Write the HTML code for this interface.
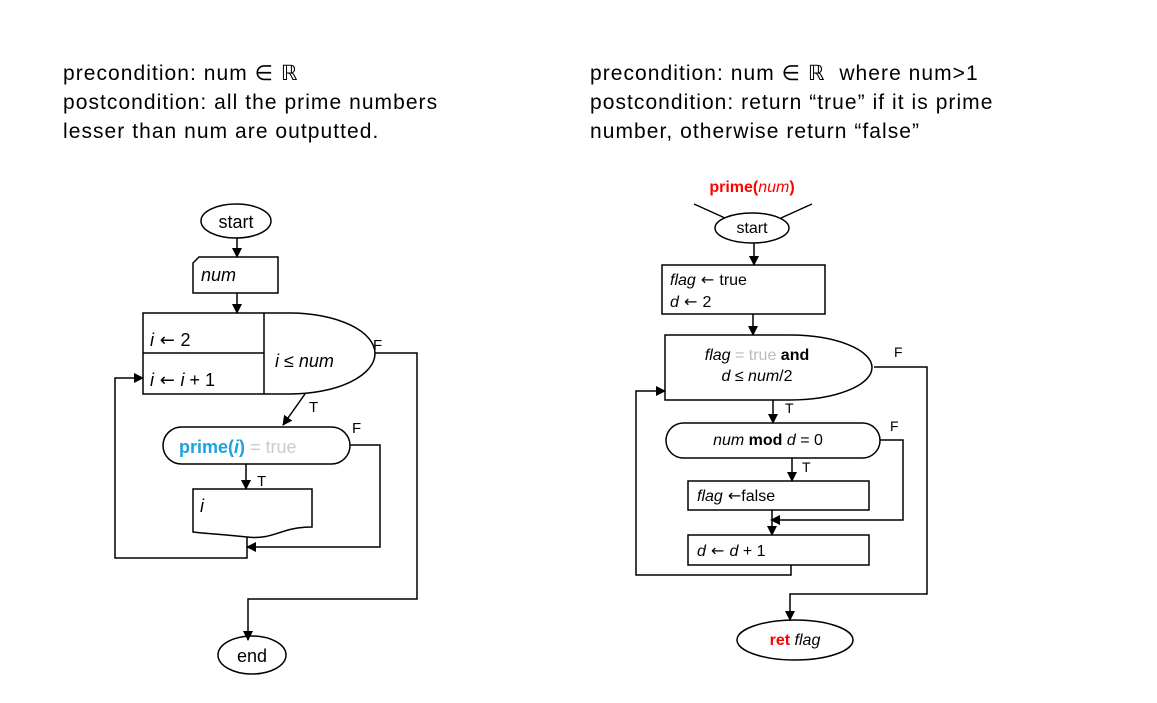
<!DOCTYPE html>
<html><head><meta charset="utf-8"><style>
body{margin:0;background:#fff;width:1157px;height:703px;overflow:hidden}
.h{position:absolute;font-family:"Liberation Sans",sans-serif;font-size:21px;letter-spacing:1.05px;line-height:29px;color:#000;white-space:nowrap}
.ar{font-family:"DejaVu Sans",sans-serif;font-style:normal}
</style></head><body>
<div class="h" style="left:63px;top:59px">precondition: num ∈ ℝ<br>postcondition: all the prime numbers<br>lesser than num are outputted.</div>
<div class="h" style="left:590px;top:59px">precondition: num ∈ ℝ &nbsp;where num&gt;1<br>postcondition: return “true” if it is prime<br>number, otherwise return “false”</div>
<svg width="1157" height="703" style="position:absolute;left:0;top:0" font-family="Liberation Sans, sans-serif">
<defs><marker id="a" markerWidth="10" markerHeight="10" refX="9" refY="5" orient="auto" markerUnits="userSpaceOnUse"><path d="M0,0 L10,5 L0,10 z" fill="#000"/></marker></defs>
<g fill="none" stroke="#000" stroke-width="1.5">
<ellipse cx="236" cy="221" rx="35" ry="17" fill="#fff"/>
<line x1="237" y1="238" x2="237" y2="257" marker-end="url(#a)"/>
<path d="M199,257 H278 V293 H193 V263 Z"/>
<line x1="237" y1="293" x2="237" y2="313" marker-end="url(#a)"/>
<path d="M143,313 H290 A85,40.5 0 0 1 290,394 H143 Z"/>
<line x1="264" y1="313" x2="264" y2="394"/>
<line x1="143" y1="353" x2="264" y2="353"/>
<polyline points="375,353 417,353 417,599 248,599 248,640" marker-end="url(#a)"/>
<line x1="305" y1="394" x2="283" y2="425" marker-end="url(#a)"/>
<rect x="163" y="427" width="187" height="37" rx="18.5"/>
<polyline points="350,445 380,445 380,547 247,547" marker-end="url(#a)"/>
<line x1="246" y1="464" x2="246" y2="489" marker-end="url(#a)"/>
<path d="M193,489 H312 V527 C280,527 275,540 247,537 C220,534 210,534 193,532 Z"/>
<polyline points="247,537 247,558 115,558 115,378 143,378" marker-end="url(#a)"/>
<ellipse cx="252" cy="655" rx="34" ry="19"/>
<line x1="694" y1="204" x2="725" y2="218"/>
<line x1="812" y1="204" x2="781" y2="218"/>
<ellipse cx="752" cy="228" rx="37" ry="15"/>
<line x1="754" y1="243" x2="754" y2="265" marker-end="url(#a)"/>
<rect x="662" y="265" width="163" height="49"/>
<line x1="753" y1="314" x2="753" y2="335" marker-end="url(#a)"/>
<path d="M665,335 H790 A82,32.5 0 0 1 790,400 H665 Z"/>
<polyline points="874,367 927,367 927,594 790,594 790,620" marker-end="url(#a)"/>
<line x1="773" y1="400" x2="773" y2="423" marker-end="url(#a)"/>
<rect x="666" y="423" width="214" height="35" rx="17.5"/>
<polyline points="880,440 903,440 903,520 771,520" marker-end="url(#a)"/>
<line x1="792" y1="458" x2="792" y2="481" marker-end="url(#a)"/>
<rect x="688" y="481" width="181" height="29"/>
<line x1="772" y1="510" x2="772" y2="535" marker-end="url(#a)"/>
<rect x="688" y="535" width="181" height="30"/>
<polyline points="791,565 791,575 636,575 636,391 665,391" marker-end="url(#a)"/>
<ellipse cx="795" cy="640" rx="58" ry="20"/>
</g>
<g font-size="18" fill="#000">
<text x="236" y="228" text-anchor="middle">start</text>
<text x="201" y="281" font-style="italic">num</text>
<text x="150" y="346" font-style="italic">i<tspan class="ar"> ← </tspan><tspan font-style="normal">2</tspan></text>
<text x="150" y="386" font-style="italic">i<tspan class="ar"> ← </tspan>i<tspan font-style="normal"> + 1</tspan></text>
<text x="275" y="367" font-style="italic">i<tspan font-style="normal"> ≤ </tspan>num</text>
<text x="373" y="350" font-size="15">F</text>
<text x="309" y="412" font-size="15">T</text>
<text x="352" y="433" font-size="15">F</text>
<text x="257" y="486" font-size="15">T</text>
<text x="179" y="453"><tspan fill="#1aa3dc" font-weight="bold">prime(<tspan font-style="italic">i</tspan>)</tspan><tspan fill="#ccc"> = true</tspan></text>
<text x="200" y="512" font-style="italic">i</text>
<text x="252" y="662" text-anchor="middle">end</text>
<text x="752" y="192" text-anchor="middle" fill="#f00" font-size="16" font-weight="bold">prime(<tspan font-style="italic" font-weight="normal">num</tspan>)</text>
<text x="752" y="233" text-anchor="middle" font-size="16">start</text>
<text x="670" y="285" font-size="16"><tspan font-style="italic">flag</tspan><tspan class="ar"> ← </tspan>true</text>
<text x="670" y="307" font-size="16"><tspan font-style="italic">d</tspan><tspan class="ar"> ← </tspan>2</text>
<text x="757" y="360" text-anchor="middle" font-size="16"><tspan font-style="italic">flag</tspan><tspan fill="#bbb"> = true</tspan><tspan font-weight="bold"> and</tspan></text>
<text x="757" y="381" text-anchor="middle" font-size="16"><tspan font-style="italic">d</tspan> ≤ <tspan font-style="italic">num</tspan>/2</text>
<text x="894" y="357" font-size="14">F</text>
<text x="785" y="413" font-size="14">T</text>
<text x="768" y="445" text-anchor="middle" font-size="16"><tspan font-style="italic">num</tspan><tspan font-weight="bold"> mod</tspan> <tspan font-style="italic">d</tspan> = 0</text>
<text x="890" y="431" font-size="14">F</text>
<text x="802" y="472" font-size="14">T</text>
<text x="697" y="501" font-size="16"><tspan font-style="italic">flag</tspan><tspan class="ar"> ←</tspan>false</text>
<text x="697" y="556" font-size="16"><tspan font-style="italic">d</tspan><tspan class="ar"> ← </tspan><tspan font-style="italic">d</tspan> + 1</text>
<text x="795" y="645" text-anchor="middle" font-size="16"><tspan fill="#f00" font-weight="bold">ret</tspan> <tspan font-style="italic">flag</tspan></text>
</g>
</svg>
</body></html>
